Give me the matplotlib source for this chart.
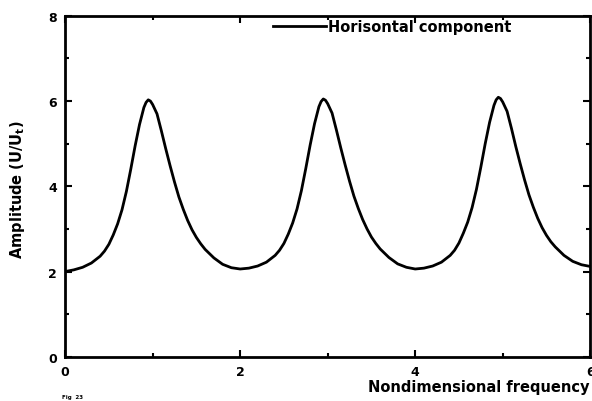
import matplotlib.pyplot as plt
from matplotlib.ticker import MultipleLocator

plt.rcParams['font.family'] = ['DejaVu Sans']
plt.rcParams['font.weight'] = 'bold'

# values
freq = [0.0, 0.1, 0.2, 0.3, 0.4, 0.45, 0.5, 0.55, 0.6, 0.65, 0.7, 0.75, 0.8, 0.85, 0.9, 0.925, 0.95, 0.975,
        1.0, 1.05, 1.1, 1.15, 1.2, 1.25, 1.3, 1.35, 1.4, 1.45, 1.5, 1.55, 1.6, 1.7, 1.8, 1.9,
        2.0, 2.1, 2.2, 2.3, 2.4, 2.45, 2.5, 2.55, 2.6, 2.65, 2.7, 2.75, 2.8, 2.85, 2.9, 2.925, 2.95, 2.975,
        3.0, 3.05, 3.1, 3.15, 3.2, 3.25, 3.3, 3.35, 3.4, 3.45, 3.5, 3.55, 3.6, 3.7, 3.8, 3.9,
        4.0, 4.1, 4.2, 4.3, 4.4, 4.45, 4.5, 4.55, 4.6, 4.65, 4.7, 4.75, 4.8, 4.85, 4.9, 4.925, 4.95, 4.975,
        5.0, 5.05, 5.1, 5.15, 5.2, 5.25, 5.3, 5.35, 5.4, 5.45, 5.5, 5.55, 5.6, 5.7, 5.8, 5.9, 6.0]
amp = [2.00, 2.04, 2.10, 2.20, 2.36, 2.48, 2.64, 2.86, 3.12, 3.45, 3.88, 4.40, 4.95, 5.45, 5.85, 5.97, 6.03, 6.00,
       5.92, 5.70, 5.30, 4.88, 4.48, 4.10, 3.75, 3.46, 3.20, 2.98, 2.80, 2.65, 2.52, 2.32, 2.17, 2.09,
       2.06, 2.08, 2.13, 2.22, 2.38, 2.50, 2.66, 2.88, 3.14, 3.47, 3.90, 4.42, 4.97, 5.47, 5.87, 5.99, 6.05, 6.02,
       5.94, 5.72, 5.32, 4.90, 4.50, 4.12, 3.77, 3.48, 3.22, 3.00, 2.81, 2.66, 2.53, 2.33, 2.18, 2.10,
       2.06, 2.08, 2.13, 2.22, 2.38, 2.50, 2.67, 2.90, 3.16, 3.50, 3.93, 4.45, 5.00, 5.50, 5.90, 6.03, 6.09, 6.06,
       5.98, 5.76, 5.36, 4.93, 4.53, 4.15, 3.80, 3.51, 3.25, 3.03, 2.85, 2.70, 2.58, 2.38, 2.24, 2.16, 2.12]

fig = plt.figure(figsize=(5.92, 4.02), dpi=100)
ax = fig.add_axes([0.110, 0.110, 0.887, 0.848])
ax.plot(freq, amp, color='black', lw=2.0, label='Horisontal component')

ax.set_xlim(0, 6)
ax.set_ylim(0, 8)
ax.xaxis.set_major_locator(MultipleLocator(2))
ax.xaxis.set_minor_locator(MultipleLocator(1))
ax.yaxis.set_major_locator(MultipleLocator(2))
ax.yaxis.set_minor_locator(MultipleLocator(1))
ax.tick_params(which='both', direction='in', top=True, right=True, width=1.5)
ax.tick_params(which='major', length=5, labelsize=9, pad=6)
ax.tick_params(which='minor', length=3)
for s in ax.spines.values():
    s.set_linewidth(2.0)

ax.legend(loc='center left', bbox_to_anchor=(0.396, 0.97), frameon=False,
          handlelength=3.6, handletextpad=0.15, fontsize=10.5, borderaxespad=0, borderpad=0)

fig.text(0.622, 0.035, 'Nondimensional frequency', fontsize=10.5, fontweight='bold', ha='left', va='center')
fig.text(0.030, 0.527, 'Amplitude (U/U$_\\mathbf{t}$)', fontsize=10.5, fontweight='bold', rotation=90,
         ha='center', va='center')
fig.text(0.105, 0.012, 'Fig  23', fontsize=4, ha='left', va='center')

fig.savefig('out.png', dpi=100)
